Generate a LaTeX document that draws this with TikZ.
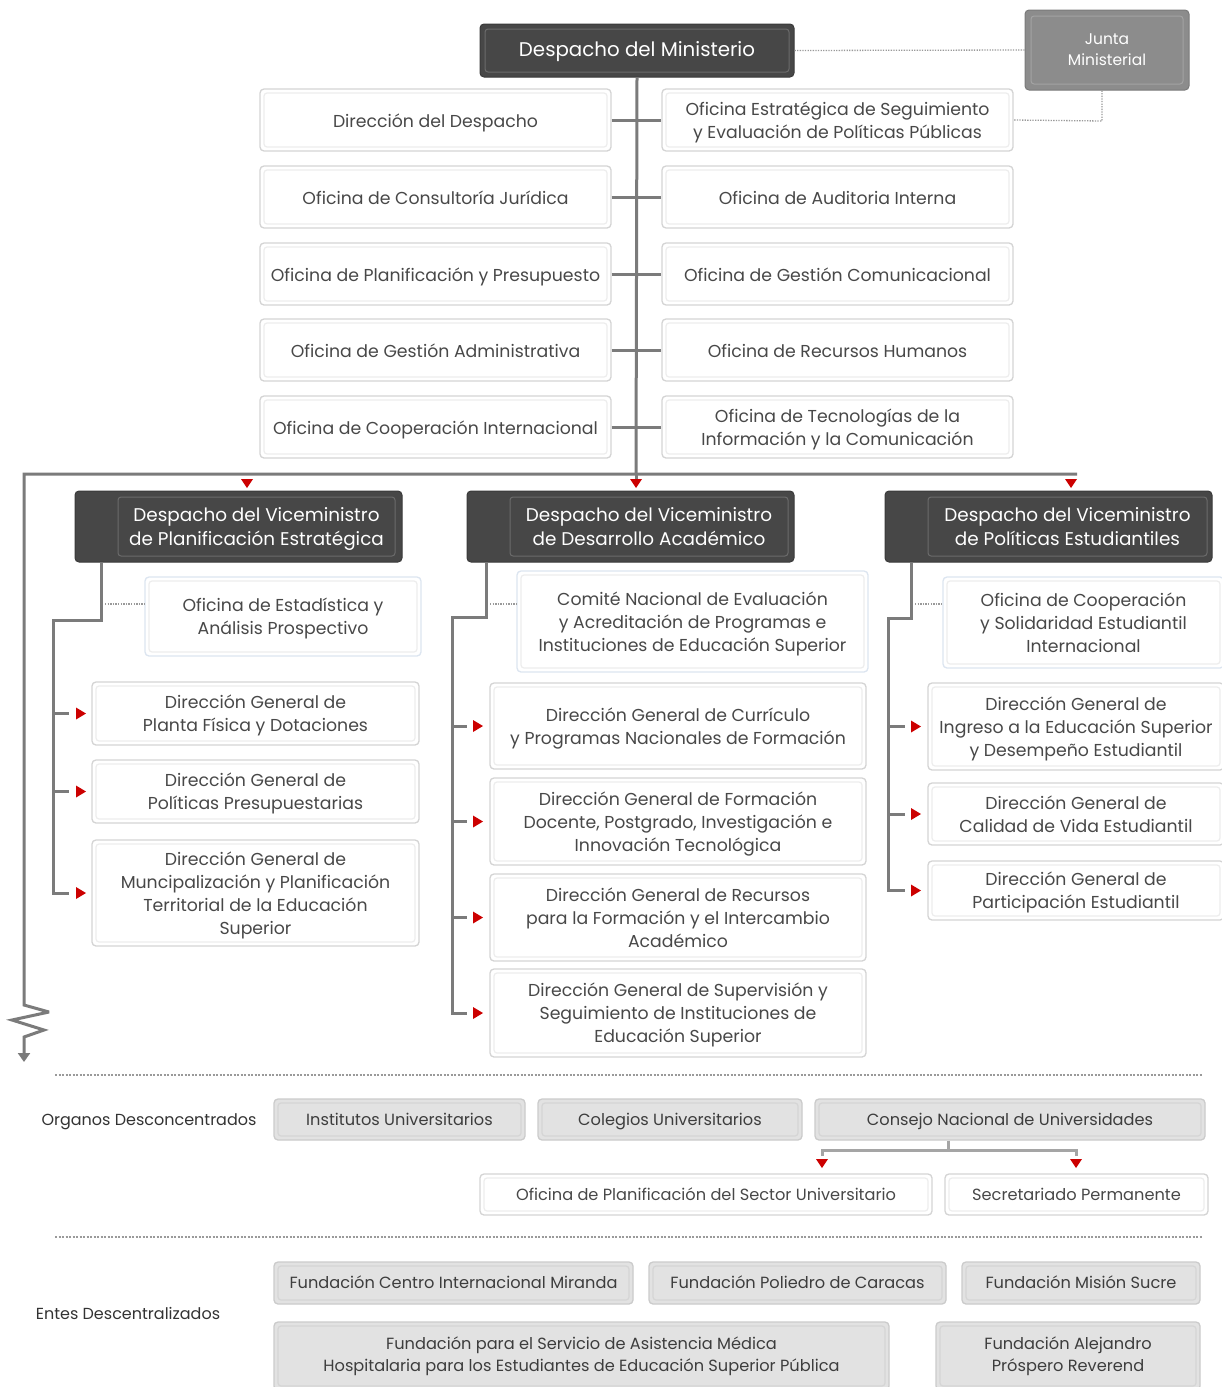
\documentclass[tikz,border=0pt]{standalone}
\usepackage{fontspec}
\setmainfont{Poppins}
\usetikzlibrary{arrows.meta,calc}
\definecolor{dark}{HTML}{474747}
\definecolor{darkline}{HTML}{3A3A3A}
\definecolor{darkinl}{HTML}{6B6B6B}
\definecolor{connc}{HTML}{7B7B7B}
\definecolor{conn2}{HTML}{A5A5A5}
\definecolor{bord}{HTML}{D4D4D4}
\definecolor{bordin}{HTML}{EDEDED}
\definecolor{blueb}{HTML}{DCE5F0}
\definecolor{txt}{HTML}{484848}
\definecolor{gfill}{HTML}{E2E2E2}
\definecolor{gbord}{HTML}{CBCBCB}
\definecolor{gin}{HTML}{D5D5D5}
\definecolor{jfill}{HTML}{8C8C8C}
\definecolor{jline}{HTML}{7A7A7A}
\definecolor{jin}{HTML}{A3A3A3}
\definecolor{redA}{HTML}{CC0000}
\definecolor{dotc}{HTML}{9A9A9A}
\newcommand\mybox[7]{\node[#1, minimum width={#5pt-#3pt}, minimum height={#6pt-#4pt}] (#2) at ({(#3+#5)/2},{(#4+#6)/2}) {#7};}
\newcommand\dtri[2]{\fill[redA] ({#1-6},{#2}) -- ({#1+6},{#2}) -- ({#1},{#2+9}) -- cycle;}
\newcommand\rtri[2]{\fill[redA] ({#1},{#2-6}) -- ({#1+10},{#2}) -- ({#1},{#2+6}) -- cycle;}
\tikzset{
  x=1pt, y=-1pt,
  evenv/.style={execute at begin node={\rule{0pt}{1.16em}},
                execute at end node={\rule[-0.29em]{0pt}{0.29em}}},
  wbox/.style={draw=bord, line width=1.3pt, rounded corners=4pt, fill=white, inner sep=0pt,
    align=center, text=txt, font=\fontsize{17.3}{23}\selectfont, evenv,
    path picture={\draw[bordin, line width=1.2pt, rounded corners=3pt]
      ([shift={(4pt,4pt)}]path picture bounding box.south west) rectangle
      ([shift={(-4pt,-4pt)}]path picture bounding box.north east);}},
  bbox/.style={wbox, draw=blueb},
  ml/.style={text depth=-1pt},
  sup/.style={text height=15.5pt, text depth=4.5pt},
  gbox/.style={draw=gbord, line width=1.3pt, rounded corners=4pt, fill=gfill, inner sep=0pt,
    align=center, text=txt!85!black, font=\fontsize{16.2}{22}\selectfont, evenv,
    path picture={\draw[gin, line width=1.2pt, rounded corners=3pt]
      ([shift={(4pt,4pt)}]path picture bounding box.south west) rectangle
      ([shift={(-4pt,-4pt)}]path picture bounding box.north east);}},
  darkbox/.style={fill=dark, draw=darkline, line width=1pt, rounded corners=4pt, inner sep=0pt},
  darkin/.style={draw=darkinl, line width=1pt, rounded corners=3pt, text=white, align=center,
    inner sep=0pt, font=\fontsize{18.4}{24}\selectfont, evenv, text depth=-2.7pt},
  jbox/.style={fill=jfill, draw=jline, line width=1pt, rounded corners=4pt, inner sep=0pt},
  jin/.style={draw=jin, line width=1pt, rounded corners=3pt, text=white, align=center,
    inner sep=0pt, font=\fontsize{15.5}{21}\selectfont, evenv, text depth=-7.5pt},
  cline/.style={draw=connc, line width=3pt},
  cline2/.style={draw=conn2, line width=3pt},
  dotl/.style={draw=dotc, line width=1.3pt, dash pattern=on 1.3pt off 1.3pt},
  sepl/.style={draw=dotc, line width=2pt, dash pattern=on 2pt off 1.5pt},
  lab/.style={text=black!80, font=\fontsize{16}{20}\selectfont, inner sep=0pt, evenv},
}
\begin{document}
\begin{tikzpicture}
\useasboundingbox[fill=white] (0,0) rectangle (1222,1387);

% ---------- top ----------
\mybox{darkbox}{min}{480}{24}{794}{77}{}
\mybox{darkin,font=\fontsize{19.8}{24}\selectfont,sup}{mint}{485}{29}{789}{72}{Despacho del Ministerio}
\mybox{jbox}{junta}{1025}{10}{1189}{90}{}
\mybox{jin}{juntat}{1031}{16}{1183}{84}{Junta\\Ministerial}

\mybox{wbox}{l1}{260}{89}{611}{151}{Dirección del Despacho}
\mybox{wbox}{l2}{260}{166}{611}{228}{Oficina de Consultoría Jurídica}
\mybox{wbox}{l3}{260}{243}{611}{305}{Oficina de Planificación y Presupuesto}
\mybox{wbox}{l4}{260}{319}{611}{381}{Oficina de Gestión Administrativa}
\mybox{wbox}{l5}{260}{396}{611}{458}{Oficina de Cooperación Internacional}
\mybox{wbox,ml}{r1}{662}{89}{1013}{151}{Oficina Estratégica de Seguimiento\\y Evaluación de Políticas Públicas}
\mybox{wbox}{r2}{662}{166}{1013}{228}{Oficina de Auditoria Interna}
\mybox{wbox}{r3}{662}{243}{1013}{305}{Oficina de Gestión Comunicacional}
\mybox{wbox}{r4}{662}{319}{1013}{381}{Oficina de Recursos Humanos}
\mybox{wbox,ml}{r5}{662}{396}{1013}{458}{Oficina de Tecnologías de la\\Información y la Comunicación}

\coordinate (hub) at (636,474);
\coordinate (hl) at (24,474);
\coordinate (hr) at (1077,474);
\draw[cline] (min.south) -- (hub);
\foreach \i in {1,...,5}{\draw[cline] (l\i.east) -- (r\i.west);}
\draw[cline, line join=miter, miter limit=4, -{Triangle[width=12pt,length=9pt]}] (hr) -- (hl) -- (24,1005) -- (49,1012) -- (12,1020) -- (44,1030) -- (24,1037) -- (24,1062);

\draw[dotl] (min.east) -- (junta.west);
\coordinate (jd) at (1102,121);
\draw[dotl] (junta.south -| jd) -- (jd) -- (r1.east);

\dtri{247}{479}
\dtri{636}{479}
\dtri{1071}{479}

% ---------- left column ----------
\mybox{darkbox}{vmL}{75}{491}{402}{562}{}
\mybox{darkin}{vmLt}{118}{497}{395}{556}{Despacho del Viceministro\\de Planificación Estratégica}
\mybox{bbox,ml}{oe}{145}{577}{421}{656}{Oficina de Estadística y\\Análisis Prospectivo}
\mybox{wbox,ml}{la}{92}{682}{419}{745}{Dirección General de\\Planta Física y Dotaciones}
\mybox{wbox,ml}{lb}{92}{760}{419}{823}{Dirección General de\\Políticas Presupuestarias}
\mybox{wbox,ml}{lc}{92}{840}{419}{946}{Dirección General de\\Muncipalización y Planificación\\Territorial de la Educación\\Superior}
\coordinate (lsp) at (53,620);
\draw[cline] ([xshift=27pt]vmL.south west) |- (lsp) |- ([xshift=-22pt]lc.west);
\draw[cline] (la.west -| lsp) -- ([xshift=-22pt]la.west);
\draw[cline] (lb.west -| lsp) -- ([xshift=-22pt]lb.west);
\coordinate (d1) at (105,604);
\draw[dotl] (d1) -- (d1 -| oe.west);
\rtri{76}{713.5}
\rtri{76}{791.5}
\rtri{76}{893}

% ---------- middle column ----------
\mybox{darkbox}{vmM}{467}{491}{794}{562}{}
\mybox{darkin}{vmMt}{510}{497}{788}{556}{Despacho del Viceministro\\de Desarrollo Académico}
\mybox{bbox,ml}{cn}{517}{571}{868}{672}{Comité Nacional de Evaluación\\y Acreditación de Programas e\\Instituciones de Educación Superior}
\mybox{wbox,ml}{ma}{490}{683}{866}{769}{Dirección General de Currículo\\y Programas Nacionales de Formación}
\mybox{wbox,ml}{mb}{490}{778}{866}{865}{Dirección General de Formación\\Docente, Postgrado, Investigación e\\Innovación Tecnológica}
\mybox{wbox,ml}{mc}{490}{874}{866}{961}{Dirección General de Recursos\\para la Formación y el Intercambio\\Académico}
\mybox{wbox,ml}{md}{490}{969}{866}{1057}{Dirección General de Supervisión y\\Seguimiento de Instituciones de\\Educación Superior}
\draw[cline] (hub) -- (hub |- 0,479);
\coordinate (msp) at (452,617);
\draw[cline] ([xshift=20pt]vmM.south west) |- (msp) |- ([xshift=-22pt]md.west);
\draw[cline] (ma.west -| msp) -- ([xshift=-22pt]ma.west);
\draw[cline] (mb.west -| msp) -- ([xshift=-22pt]mb.west);
\draw[cline] (mc.west -| msp) -- ([xshift=-22pt]mc.west);
\coordinate (d2) at (490,604);
\draw[dotl] (d2) -- (d2 -| cn.west);
\rtri{473}{726}
\rtri{473}{821.5}
\rtri{473}{917.5}
\rtri{473}{1013}

% ---------- right column ----------
\mybox{darkbox}{vmR}{885}{491}{1212}{562}{}
\mybox{darkin}{vmRt}{928}{497}{1207}{556}{Despacho del Viceministro\\de Políticas Estudiantiles}
\mybox{bbox,ml}{oc}{943}{577}{1224}{668}{Oficina de Cooperación\\y Solidaridad Estudiantil\\Internacional}
\mybox{wbox,ml}{ra}{928}{683}{1224}{770}{Dirección General de\\Ingreso a la Educación Superior\\y Desempeño Estudiantil}
\mybox{wbox,ml}{rb}{928}{783}{1224}{845}{Dirección General de\\Calidad de Vida Estudiantil}
\mybox{wbox,ml}{rc}{928}{861}{1224}{920}{Dirección General de\\Participación Estudiantil}
\coordinate (rsp) at (888,618);
\draw[cline] ([xshift=27pt]vmR.south west) |- (rsp) |- ([xshift=-22pt]rc.west);
\draw[cline] (ra.west -| rsp) -- ([xshift=-22pt]ra.west);
\draw[cline] (rb.west -| rsp) -- ([xshift=-22pt]rb.west);
\coordinate (d3) at (915,604);
\draw[dotl] (d3) -- (d3 -| oc.west);
\rtri{911}{726.5}
\rtri{911}{814}
\rtri{911}{890.5}

% ---------- bottom ----------
\draw[sepl] (55,1075) -- (1203,1075);
\node[lab] (od) at (149,1119) {Organos Desconcentrados};
\mybox{gbox,sup}{iu}{274}{1099}{525}{1140}{Institutos Universitarios}
\mybox{gbox,sup}{cu}{538}{1099}{802}{1140}{Colegios Universitarios}
\mybox{gbox,sup}{cnu}{815}{1099}{1205}{1140}{Consejo Nacional de Universidades}
\mybox{wbox,font=\fontsize{16.2}{22}\selectfont,sup}{ospu}{480}{1174}{932}{1215}{Oficina de Planificación del Sector Universitario}
\mybox{wbox,font=\fontsize{16.2}{22}\selectfont,sup}{secp}{945}{1174}{1208}{1215}{Secretariado Permanente}
\coordinate (cj) at (948,1150);
\coordinate (ca) at (822,1150);
\coordinate (cb) at (1076,1150);
\draw[cline2] (cj |- cnu.south) -- (cj);
\draw[cline2] ([yshift=-6pt]ca) -- (ca) -- (cb) -- ([yshift=-6pt]cb);
\dtri{822}{1159}
\dtri{1076}{1159}

\draw[sepl] (55,1237) -- (1203,1237);
\node[lab] (ed) at (128,1313) {Entes Descentralizados};
\mybox{gbox,sup}{fa}{274}{1262}{633}{1304}{Fundación Centro Internacional Miranda}
\mybox{gbox,sup}{fb}{649}{1262}{946}{1304}{Fundación Poliedro de Caracas}
\mybox{gbox,sup}{fc}{962}{1262}{1200}{1304}{Fundación Misión Sucre}
\mybox{gbox}{fd}{274}{1322}{889}{1390}{Fundación para el Servicio de Asistencia Médica\\Hospitalaria para los Estudiantes de Educación Superior Pública}
\mybox{gbox}{fe}{936}{1322}{1200}{1390}{Fundación Alejandro\\Próspero Reverend}
\end{tikzpicture}
\end{document}
